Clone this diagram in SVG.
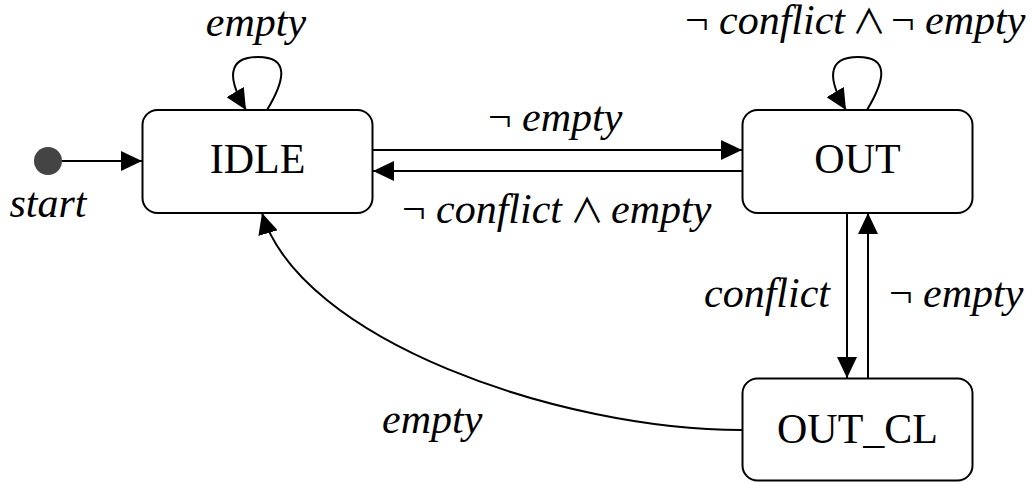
<svg xmlns="http://www.w3.org/2000/svg" width="1032" height="482" viewBox="0 0 1032 482">
  <style>
    .node rect { fill: #ffffff; stroke: #000000; stroke-width: 2; }
    .node text { font-family: "Liberation Serif", "Times New Roman", serif; font-size: 42px; text-anchor: middle; fill: #000000; }
    .edge { fill: none; stroke: #000000; stroke-width: 2; marker-end: url(#ah); }
    /* guard words in italic serif */
    .it { font-family: "Liberation Serif", "Times New Roman", serif; font-size: 42px; font-style: italic; fill: #000000; }
    /* logical operators stay upright */
    .op { font-family: "Liberation Serif", "Times New Roman", serif; font-size: 42px; fill: #000000; }
    .and { font-family: "Noto Sans CJK JP", "DejaVu Serif", serif; font-size: 34px; fill: #000000; text-anchor: middle; }
  </style>
  <defs>
    <marker id="ah" markerWidth="21" markerHeight="20" refX="21" refY="10" orient="auto" markerUnits="userSpaceOnUse">
      <path d="M0,0 L21,10 L0,20 z" fill="#000000"/>
    </marker>
  </defs>
  <rect width="1032" height="482" fill="#ffffff"/>

  <!-- initial pseudo-state -->
  <g id="start">
    <circle cx="48" cy="161" r="14" fill="#444444"/>
    <text class="it" x="48" y="217" text-anchor="middle">start</text>
  </g>

  <g id="idle" class="node">
    <rect x="142.5" y="110" width="230" height="103" rx="15" ry="15"/>
    <text x="257.5" y="173">IDLE</text>
  </g>

  <g id="out" class="node">
    <rect x="742.5" y="110" width="230" height="103" rx="15" ry="15"/>
    <text x="857.5" y="173">OUT</text>
  </g>

  <g id="out_cl" class="node">
    <rect x="742.5" y="378.5" width="230" height="102" rx="15" ry="15"/>
    <text x="857.5" y="443">OUT_CL</text>
  </g>

  <g id="connectors">
    <!-- start -> IDLE -->
    <path class="edge" d="M62,161 L142,161"/>

    <!-- IDLE self-loop: empty -->
    <path class="edge" d="M267,110 C285,80 290,57 258,57 C226,57 228,80 246,110"/>
    <text class="it" x="256" y="36" text-anchor="middle">empty</text>

    <!-- IDLE -> OUT: ¬ empty -->
    <path class="edge" d="M373,150 L742,150"/>
    <text class="op" x="488" y="131">¬</text>
    <text class="it" x="522" y="131">empty</text>

    <!-- OUT -> IDLE: ¬ conflict ∧ empty -->
    <path class="edge" d="M742,171 L373,171"/>
    <text class="op" x="402" y="223">¬</text>
    <text class="it" x="436" y="223">conflict</text>
    <text class="and" x="587" y="223">∧</text>
    <text class="it" x="611" y="223">empty</text>

    <!-- OUT self-loop: ¬ conflict ∧ ¬ empty -->
    <path class="edge" d="M867,110 C885,80 890,57 858,57 C826,57 828,80 846,110"/>
    <text class="op" x="685" y="34">¬</text>
    <text class="it" x="719" y="34">conflict</text>
    <text class="and" x="869" y="34">∧</text>
    <text class="op" x="891" y="34">¬</text>
    <text class="it" x="925" y="34">empty</text>

    <!-- OUT -> OUT_CL: conflict -->
    <path class="edge" d="M847,213 L847,378"/>
    <text class="it" x="830" y="307" text-anchor="end">conflict</text>

    <!-- OUT_CL -> OUT: ¬ empty -->
    <path class="edge" d="M868,378 L868,213"/>
    <text class="op" x="889" y="307">¬</text>
    <text class="it" x="923" y="307">empty</text>

    <!-- OUT_CL -> IDLE: empty -->
    <path class="edge" d="M742,430 C560,430 300,340 262,213"/>
    <text class="it" x="382" y="433">empty</text>
  </g>
</svg>
